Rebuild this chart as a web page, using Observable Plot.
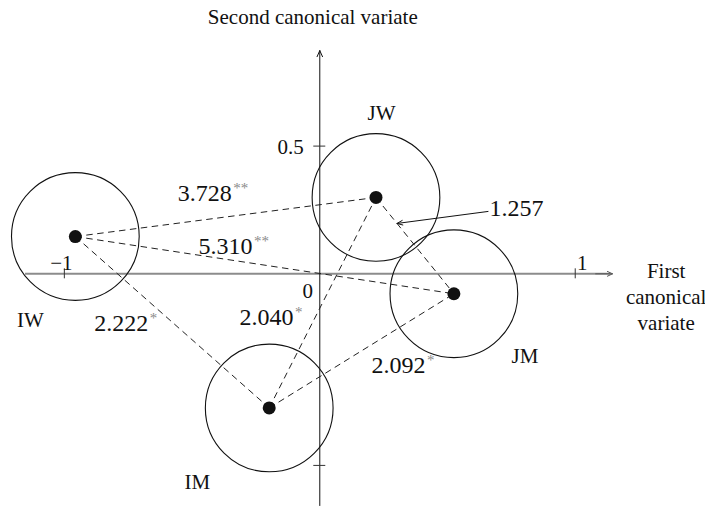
<!DOCTYPE html>
<html>
<head>
<meta charset="utf-8">
<script src="https://cdn.jsdelivr.net/npm/d3@7"></script>
<script src="https://cdn.jsdelivr.net/npm/@observablehq/plot@0.6"></script>
<style>
  html, body { margin: 0; padding: 0; background: #fff; }
</style>
</head>
<body>
<div id="chart"></div>
<script>
// Group means on the first two canonical variates
const groups = ["IW", "JW", "JM", "IM"];
const firstVariate = [-0.957, 0.220, 0.525, -0.198];
const secondVariate = [0.146, 0.299, -0.078, -0.525];
const circleRadius = 0.25; // radius of each group circle, in canonical units

// Distances between group means, with significance stars
const pairFrom = ["IW", "IW", "IW", "IM", "IM", "JW"];
const pairTo = ["JW", "JM", "IM", "JW", "JM", "JM"];
const distances = ["3.728", "5.310", "2.222", "2.040", "2.092", "1.257"];
const stars = ["**", "**", "*", "*", "*", ""];

// Axis ticks
const xTicks = [-1, 1];
const xTickLabels = ["\u22121", "1"];
const yTicks = [0.5, -0.75];
const yTickLabels = ["0.5", ""];

const W = 705, H = 516;
const xDomain = [-1.25, 1.51];
const yDomain = [-0.95, 1.07];
const ppu = W / (xDomain[1] - xDomain[0]); // pixels per canonical unit
const px = (v) => v / ppu;

const points = groups.map((g, i) => ({group: g, x: firstVariate[i], y: secondVariate[i]}));
const byName = new Map(points.map((p) => [p.group, p]));

// pixel offsets of the labels from their anchors
const groupLabelOffset = {IW: [-45, 90], JW: [5.5, -77], JM: [71, 69], IM: [-72, 81]};
const distLabelOffset = [[6, -15.5], [-12, -11.5], [-24, 8.5], [-29, 22], [64, 22], [0, 0]];
const xTickLabelShift = [-3, 7];

const pairs = pairFrom.map((a, i) => {
  const p = byName.get(a), q = byName.get(pairTo[i]);
  return {
    x1: p.x, y1: p.y, x2: q.x, y2: q.y,
    mx: (p.x + q.x) / 2 + px(distLabelOffset[i][0]),
    my: (p.y + q.y) / 2 - px(distLabelOffset[i][1]),
    dist: distances[i], stars: stars[i]
  };
});

// 1.257 is pointed at its line with an arrow
const callIdx = 5;
const cp = byName.get(pairFrom[callIdx]), cq = byName.get(pairTo[callIdx]);
const tipX = cp.x + 0.27 * (cq.x - cp.x), tipY = cp.y + 0.27 * (cq.y - cp.y);
const callout = {x1: tipX + px(91), y1: tipY + px(12), x2: tipX, y2: tipY,
  tx: tipX + px(92.5), ty: tipY + px(7), text: distances[callIdx]};

const serif = "Liberation Serif, Times New Roman, serif";
const ink = "#111";

const chart = Plot.plot({
  width: W,
  height: H,
  margin: 0,
  x: {domain: xDomain, axis: null},
  y: {domain: yDomain, axis: null},
  style: {fontFamily: serif, background: "#fff", color: ink},
  marks: [
    // axes
    Plot.ruleY([0], {x1: -1.152, x2: 1.14, stroke: "#8c8c8c", strokeWidth: 2}),
    Plot.arrow([0], {x1: 1.08, y1: 0, x2: 1.146, y2: 0, stroke: "#555", strokeWidth: 1, headLength: 10, headAngle: 50}),
    Plot.arrow([0], {x1: 0, y1: -0.907, x2: 0, y2: 0.874, stroke: ink, strokeWidth: 1, headLength: 10, headAngle: 48}),
    Plot.ruleX(xTicks, {x: (d) => d, y1: 0, y2: 0, insetTop: -5, insetBottom: -5, stroke: "#333", strokeWidth: 1}),
    Plot.ruleY(yTicks, {y: (d) => d, x1: 0, x2: 0, insetLeft: -6, insetRight: -6, stroke: "#333", strokeWidth: 1}),
    Plot.text(xTicks, {x: (d, i) => d + px(xTickLabelShift[i]), y: 0, text: (d, i) => xTickLabels[i], fontFamily: serif, fontSize: 21,
      textAnchor: "middle", lineAnchor: "bottom", dy: -4, fill: ink}),
    Plot.text(yTicks, {x: 0, y: (d) => d, text: (d, i) => yTickLabels[i], fontFamily: serif, fontSize: 21,
      textAnchor: "end", lineAnchor: "bottom", dx: -16, dy: 7.5, fill: ink}),
    Plot.text(["0"], {x: 0, y: 0, fontFamily: serif, fontSize: 21, textAnchor: "middle", lineAnchor: "bottom", dx: -12, dy: 24, fill: ink}),
    Plot.text(["First\ncanonical\nvariate"], {x: 1.356, y: 0, fontFamily: serif, fontSize: 21, lineHeight: 1.24,
      textAnchor: "middle", lineAnchor: "top", dy: -14, fill: ink}),
    Plot.text(["Second canonical variate"], {x: 0, frameAnchor: "top", fontFamily: serif, fontSize: 21,
      textAnchor: "middle", lineAnchor: "bottom", dx: -7, dy: 23, fill: ink}),

    // group circles
    Plot.dot(points, {x: "x", y: "y", r: circleRadius * ppu, stroke: ink, strokeWidth: 1.1, fill: "none"}),
    // distances between means
    Plot.link(pairs, {x1: "x1", y1: "y1", x2: "x2", y2: "y2", stroke: "#222", strokeWidth: 1, strokeDasharray: "6.5,4.5"}),
    // group means
    Plot.dot(points, {x: "x", y: "y", r: 6.5, fill: ink, stroke: "none"}),
    Plot.text(points, {
      x: (d) => d.x + px(groupLabelOffset[d.group][0]),
      y: (d) => d.y - px(groupLabelOffset[d.group][1]),
      text: "group", fontFamily: serif, fontSize: 21, textAnchor: "middle", lineAnchor: "bottom", fill: ink
    }),

    // distance labels
    Plot.text(pairs.slice(0, callIdx), {x: "mx", y: "my", text: "dist", fontFamily: serif, fontSize: 24,
      textAnchor: "end", lineAnchor: "bottom", fill: ink}),
    Plot.text(pairs.slice(0, callIdx), {x: "mx", y: "my", text: "stars", fontFamily: serif, fontSize: 15,
      textAnchor: "start", lineAnchor: "bottom", dx: 1.5, dy: -8, fill: "#8a8a8a"}),
    Plot.arrow([callout], {x1: "x1", y1: "y1", x2: "x2", y2: "y2", stroke: ink, strokeWidth: 1, headLength: 9, headAngle: 45}),
    Plot.text([callout], {x: "tx", y: "ty", text: "text", fontFamily: serif, fontSize: 24,
      textAnchor: "start", lineAnchor: "bottom", fill: ink})
  ]
});

document.getElementById("chart").appendChild(chart);
</script>
</body>
</html>
